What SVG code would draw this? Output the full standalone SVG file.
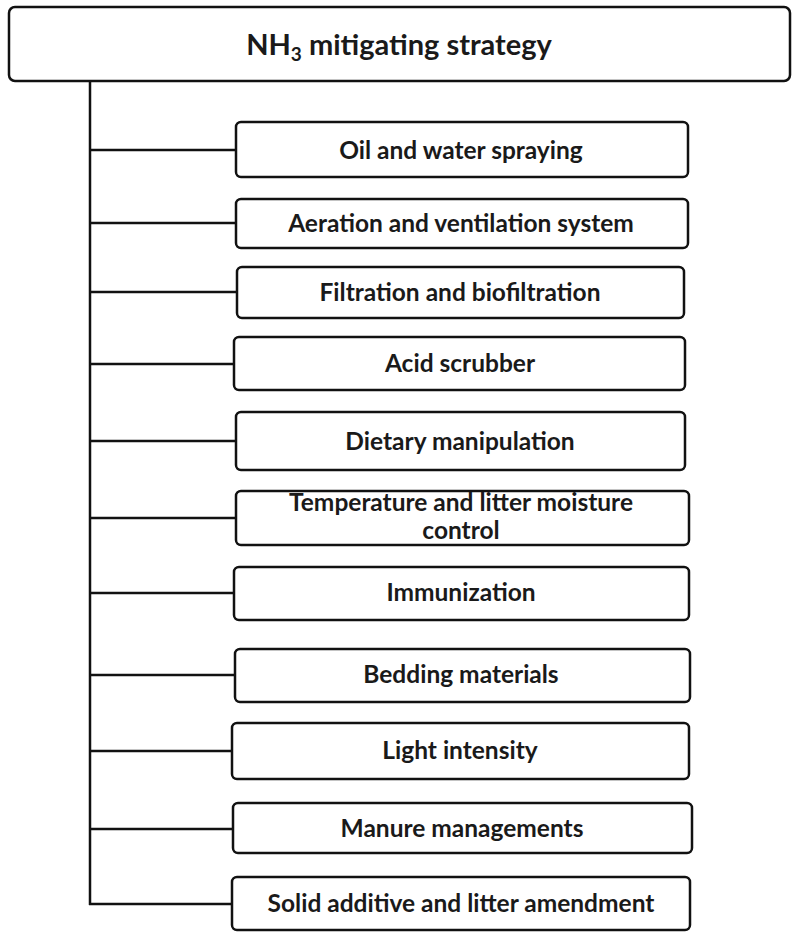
<svg xmlns="http://www.w3.org/2000/svg" width="798" height="937" viewBox="0 0 798 937">
<style>
.box{fill:#fff;stroke:#111;stroke-width:2.5}
.lbl{font-family:Lato,"Open Sans","Liberation Sans",sans-serif;font-weight:bold;font-size:24.5px;fill:#1a1a1a;text-anchor:middle}
.ttl{font-family:Lato,"Open Sans","Liberation Sans",sans-serif;font-weight:bold;font-size:29px;fill:#1a1a1a;text-anchor:middle}
.con{stroke:#111;stroke-width:2.5;fill:none}
</style>
<rect width="798" height="937" fill="#fff"/>
<g id="connectors">
<line class="con" x1="90" y1="80" x2="90" y2="905"/>
<line class="con" x1="89" y1="150" x2="236" y2="150"/>
<line class="con" x1="89" y1="223" x2="236" y2="223"/>
<line class="con" x1="89" y1="292" x2="237" y2="292"/>
<line class="con" x1="89" y1="364" x2="234" y2="364"/>
<line class="con" x1="89" y1="441" x2="236" y2="441"/>
<line class="con" x1="89" y1="518" x2="236" y2="518"/>
<line class="con" x1="89" y1="593" x2="234" y2="593"/>
<line class="con" x1="89" y1="675" x2="235" y2="675"/>
<line class="con" x1="89" y1="751" x2="232" y2="751"/>
<line class="con" x1="89" y1="829" x2="233" y2="829"/>
<line class="con" x1="89" y1="904" x2="232" y2="904"/>
</g>
<g id="root">
<rect class="box" x="9" y="7" width="781" height="74" rx="6" stroke-width="3"/>
<text class="ttl" x="399" y="55">NH<tspan font-size="19" dy="6">3</tspan><tspan dy="-6"> mitigating strategy</tspan></text>
</g>
<g id="n1">
<rect class="box" x="236" y="122" width="452" height="55" rx="5"/>
<text class="lbl" x="461" y="159">Oil and water spraying</text>
</g>
<g id="n2">
<rect class="box" x="236" y="199" width="452" height="49" rx="5"/>
<text class="lbl" x="461" y="232">Aeration and ventilation system</text>
</g>
<g id="n3">
<rect class="box" x="237" y="267" width="447" height="51" rx="5"/>
<text class="lbl" x="460" y="301">Filtration and biofiltration</text>
</g>
<g id="n4">
<rect class="box" x="234" y="337" width="451" height="53" rx="5"/>
<text class="lbl" x="460" y="372">Acid scrubber</text>
</g>
<g id="n5">
<rect class="box" x="236" y="412" width="449" height="58" rx="5"/>
<text class="lbl" x="460" y="450">Dietary manipulation</text>
</g>
<g id="n6">
<rect class="box" x="236" y="491" width="453" height="54" rx="5"/>
<text class="lbl" x="461" y="511">Temperature and litter moisture</text>
<text class="lbl" x="461" y="539">control</text>
</g>
<g id="n7">
<rect class="box" x="234" y="567" width="455" height="53" rx="5"/>
<text class="lbl" x="461" y="601">Immunization</text>
</g>
<g id="n8">
<rect class="box" x="235" y="649" width="455" height="53" rx="5"/>
<text class="lbl" x="461" y="683">Bedding materials</text>
</g>
<g id="n9">
<rect class="box" x="232" y="723" width="457" height="56" rx="5"/>
<text class="lbl" x="460" y="759">Light intensity</text>
</g>
<g id="n10">
<rect class="box" x="233" y="803" width="459" height="50" rx="5"/>
<text class="lbl" x="462" y="837">Manure managements</text>
</g>
<g id="n11">
<rect class="box" x="232" y="877" width="458" height="53" rx="5"/>
<text class="lbl" x="461" y="912">Solid additive and litter amendment</text>
</g>
</svg>
